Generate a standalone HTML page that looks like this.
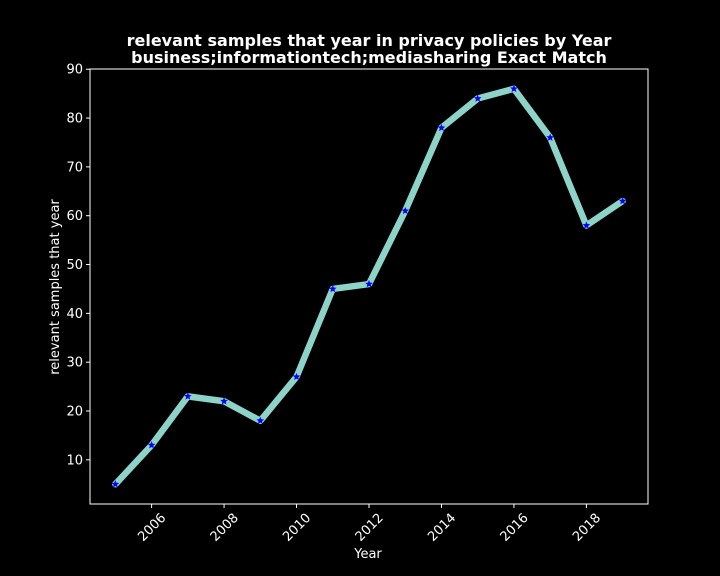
<!DOCTYPE html>
<html><head><meta charset="utf-8"><style>
html,body{margin:0;padding:0;background:#000;}
svg{display:block;font-family:"DejaVu Sans","Liberation Sans",sans-serif;}
</style></head><body>
<svg id="chart" width="720" height="576" viewBox="0 0 720 576">
<rect width="720" height="576" fill="#000"/>
<text x="369" y="46" fill="#fff" font-size="16" font-weight="bold" text-anchor="middle">relevant samples that year in privacy policies by Year</text>
<text x="369" y="63" fill="#fff" font-size="16" font-weight="bold" text-anchor="middle">business;informationtech;mediasharing Exact Match</text>
<g id="axes"></g>
<g id="series"></g>
<rect x="90" y="69" width="558" height="435" fill="none" stroke="#fff" stroke-width="1"/>
<text x="368" y="558" fill="#fff" font-size="13" text-anchor="middle">Year</text>
<text transform="translate(59,287) rotate(-90)" fill="#fff" font-size="13" text-anchor="middle">relevant samples that year</text>
</svg>
<script>
const years = [2005,2006,2007,2008,2009,2010,2011,2012,2013,2014,2015,2016,2017,2018,2019];
const values = [5,13,23,22,18,27,45,46,61,78,84,86,76,58,63];
const xTicks = [2006,2008,2010,2012,2014,2016,2018];
const yTicks = [10,20,30,40,50,60,70,80,90];

const X0=90,X1=648,Y0=504,Y1=69;
const xMin=2004.3,xMax=2019.7,yMin=0.95,yMax=90.05;
function sx(v){return X0+(v-xMin)/(xMax-xMin)*(X1-X0);}
function sy(v){return Y0-(v-yMin)/(yMax-yMin)*(Y0-Y1);}
const NS="http://www.w3.org/2000/svg";
const axes=document.getElementById('axes');
const series=document.getElementById('series');
function mk(tag,attrs,parent){const e=document.createElementNS(NS,tag);for(const k in attrs)e.setAttribute(k,attrs[k]);parent.appendChild(e);return e;}

yTicks.forEach(t=>{
  const y=sy(t);
  const l=mk('line',{x1:X0-4,x2:X0,y1:y,y2:y,stroke:'#fff'},axes);
  
  
  const tx=mk('text',{x:X0-7,y:y+4.5,fill:'#fff','font-size':'13','text-anchor':'end'},axes);
  tx.textContent=t;
  
  
});
xTicks.forEach(t=>{
  const x=sx(t);
  const l=mk('line',{x1:x,x2:x,y1:Y0,y2:Y0+4,stroke:'#fff'},axes);
  
  
  const tx=mk('text',{transform:`translate(${x},${Y0+23}) rotate(-45)`,y:'4.5',fill:'#fff','font-size':'13','text-anchor':'middle'},axes);
  tx.textContent=t;
  
  
});

const pts=years.map((y,i)=>sx(y).toFixed(2)+','+sy(values[i]).toFixed(2)).join(' ');
const line=mk('polyline',{points:pts,fill:'none',stroke:'#8dd3c7','stroke-width':'6.5','stroke-linejoin':'round','stroke-linecap':'round'},series);



function star(cx,cy,r){let p=[];for(let i=0;i<10;i++){const a=-Math.PI/2+i*Math.PI/5;const rr=i%2?r*0.45:r;p.push((cx+rr*Math.cos(a)).toFixed(2)+','+(cy+rr*Math.sin(a)).toFixed(2));}return p.join(' ');}
years.forEach((y,i)=>{
  const m=mk('polygon',{points:star(sx(y),sy(values[i]),4),fill:'#0000ff'},series);
  
  
});
</script>
</body></html>
